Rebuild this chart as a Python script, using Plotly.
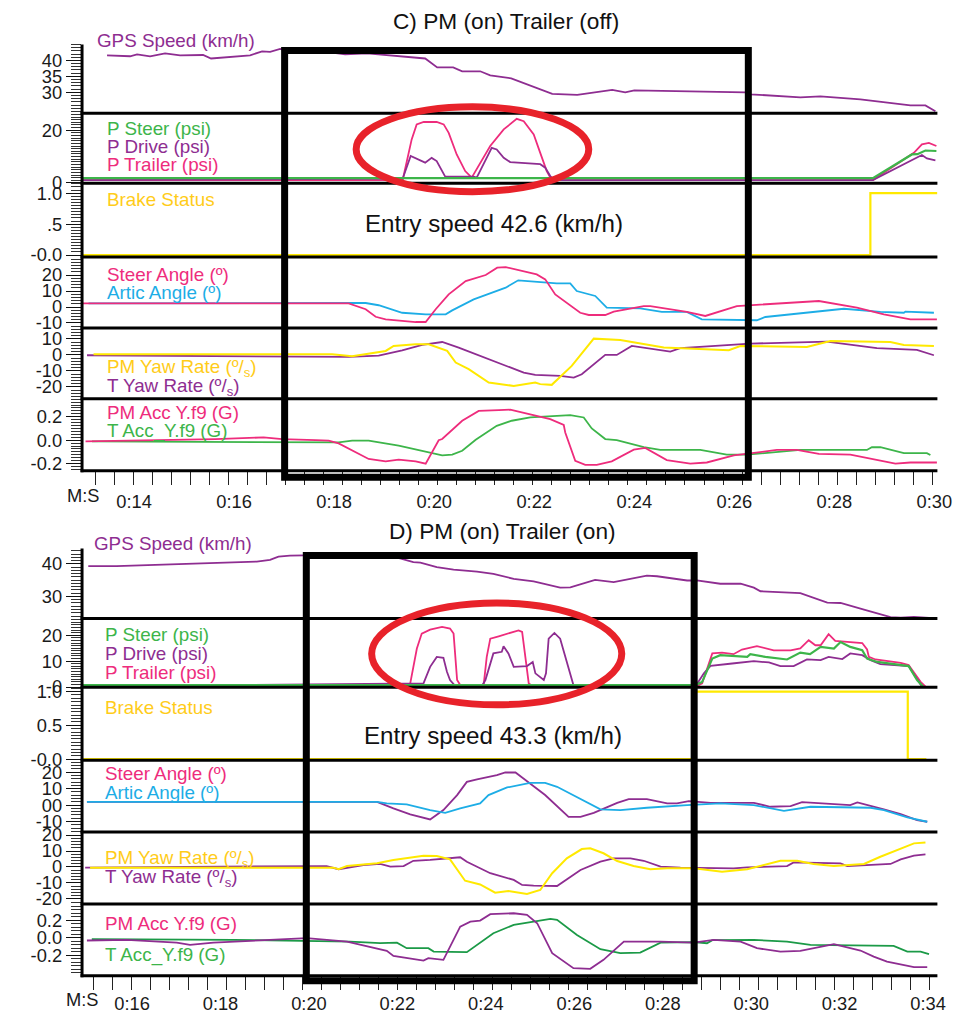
import plotly.graph_objects as go

# ======================= DATA =======================
# ---- Panel C : PM (on) Trailer (off) ----
c_xtick_vals = [14, 16, 18, 20, 22, 24, 26, 28, 30]
c_xtick_text = ["0:14", "0:16", "0:18", "0:20", "0:22", "0:24", "0:26", "0:28", "0:30"]

c_gps_t = [13.46, 13.92, 14.06, 14.32, 14.62, 14.92, 15.38, 15.54, 16.32, 16.56, 16.72, 16.92, 17.16, 17.92,
           18.22, 18.66, 19.82, 20.06, 20.38, 20.56, 20.92, 21.12, 21.54, 22.22, 22.36, 22.86, 23.56, 23.82,
           24.0, 26.22, 26.32, 27.32, 27.72, 28.52, 29.52, 29.82, 30.02]
c_gps = [41.6, 41.3, 41.9, 41.25, 42.2, 41.6, 41.7, 40.6, 41.6, 42.8, 42.7, 43.6, 42.5, 42.5,
         41.9, 42.2, 40.6, 37.8, 37.8, 36.6, 36.6, 35.3, 34.4, 30.3, 29.5, 29.2, 30.8, 30.0,
         30.6, 30.0, 29.4, 28.4, 28.75, 27.8, 25.9, 25.9, 24.1]

c_pstr_t = [12.97, 28.77, 29.55, 29.66, 29.82, 30.04]
c_pstr = [1.8, 1.8, 10.8, 10.9, 12.3, 12.1]
c_pdrv_t = [12.97, 19.37, 19.53, 19.65, 19.82, 19.95, 20.05, 20.22, 20.79, 20.85, 21.15, 21.25, 21.39, 21.52,
            22.12, 22.22, 22.32, 22.4, 28.77, 29.75, 29.85, 30.02]
c_pdrv = [1.1, 1.6, 10.2, 9.2, 7.7, 9.5, 8.3, 2.4, 2.4, 2.0, 13.3, 12.7, 9.5, 7.9,
          7.1, 5.8, 2.6, 1.1, 1.1, 10.6, 9.3, 8.6]
c_ptrl_t = [12.97, 19.37, 19.55, 19.65, 19.79, 20.05, 20.19, 20.29, 20.45, 20.62, 20.75, 20.92, 21.12, 21.39,
            21.65, 21.79, 21.99, 22.12, 22.25, 22.35, 28.77, 29.59, 29.75, 29.89, 30.04]
c_ptrl = [1.1, 1.1, 16.5, 22.2, 23.1, 23.1, 22.2, 19.0, 10.8, 4.5, 2.0, 7.7, 14.0, 20.3,
          24.3, 23.4, 18.4, 11.4, 4.5, 1.1, 1.1, 11.4, 14.6, 15.2, 14.0]

c_brake_t = [12.97, 28.72, 30.06]
c_brake = [0, 1, 1]

c_steer_t = [12.97, 18.29, 18.63, 18.83, 19.03, 19.63, 19.83, 20.03, 20.29, 20.63, 21.03, 21.26, 21.43, 22.05,
             22.22, 22.42, 22.92, 23.09, 23.42, 23.59, 24.19, 24.32, 25.05, 25.42, 26.05, 27.69, 28.45, 28.99,
             29.52, 30.05]
c_steer = [2.3, 2.3, -1.4, -6.1, -7.7, -9.4, -9.4, -1.4, 7.9, 16.25, 20.0, 24.6, 25.0, 20.4,
           17.3, 7.9, -3.6, -5.0, -5.0, -2.9, 0.6, 0.6, -3.1, -5.6, 0.6, 3.75, -0.4, -4.6,
           -7.7, -7.7]
c_artic_t = [13.09, 18.63, 18.89, 19.36, 19.83, 20.23, 20.36, 20.79, 21.43, 21.68, 22.45, 22.72, 22.85, 23.22,
             23.45, 24.12, 24.55, 25.05, 25.35, 26.45, 26.62, 28.19, 28.92, 29.39, 29.42, 29.99]
c_artic = [2.3, 2.5, 1.1, -3.6, -4.6, -4.6, -2.1, 4.8, 12.1, 16.7, 14.8, 14.8, 10.0, 6.9,
           -0.4, -0.8, -3.1, -3.1, -7.7, -8.3, -6.25, -1.1, -3.1, -3.6, -2.9, -3.6]

c_pmyaw_t = [13.19, 17.96, 18.36, 19.03, 19.19, 19.63, 19.89, 20.26, 20.43, 20.69, 21.09, 21.59, 22.02, 22.12,
             22.35, 22.75, 23.19, 23.72, 24.59, 25.89, 26.12, 27.45, 27.92, 29.12, 29.39, 29.99]
c_pmyaw = [0.4, 0.4, -0.8, 2.5, 5.6, 6.7, 6.7, 2.5, -4.8, -8.9, -17.3, -19.4, -17.3, -18.3,
           -18.75, -6.9, 10.2, 9.4, 4.6, 2.9, 5.6, 5.0, 8.75, 8.1, 6.25, 5.6]
c_tyaw_t = [13.06, 18.29, 18.89, 19.36, 19.76, 20.16, 20.49, 20.92, 21.79, 22.02, 22.52, 22.79, 22.95, 23.42,
            23.65, 23.95, 24.72, 24.92, 26.05, 26.32, 27.85, 28.85, 29.65, 29.99]
c_tyaw = [-0.2, -1.25, -0.4, 2.9, 6.25, 8.1, 4.6, -0.6, -11.1, -12.5, -13.1, -14.2, -12.1, 0.0,
          0.0, 5.6, 2.1, 4.2, 6.7, 7.1, 8.3, 4.2, 3.1, -0.2]

c_pmacc_t = [13.03, 15.63, 16.59, 16.96, 17.63, 17.89, 18.09, 18.69, 19.03, 19.29, 19.63, 19.83, 20.09, 20.16,
             20.56, 20.89, 21.29, 21.52, 22.32, 22.59, 22.62, 22.72, 22.82, 23.02, 23.25, 23.55, 23.99, 24.22,
             24.65, 25.12, 25.45, 25.99, 26.85, 27.25, 27.69, 28.32, 28.72, 29.22, 29.52, 30.05]
c_pmacc = [-0.01, 0.01, 0.024, 0.01, 0.0, -0.004, -0.027, -0.16, -0.18, -0.166, -0.18, -0.2, 0.0, 0.01,
           0.166, 0.25, 0.257, 0.26, 0.18, 0.13, 0.066, -0.06, -0.175, -0.21, -0.21, -0.18, -0.08, -0.066,
           -0.17, -0.2, -0.19, -0.13, -0.083, -0.083, -0.117, -0.123, -0.16, -0.2, -0.19, -0.19]
c_tacc_t = [13.16, 18.09, 18.36, 18.69, 19.29, 20.16, 20.36, 20.56, 20.83, 21.25, 21.55, 21.92, 22.72, 22.99,
            23.15, 23.42, 23.65, 24.19, 24.52, 25.32, 25.85, 26.25, 27.32, 28.65, 28.75, 28.92, 29.39, 29.85,
            29.92]
c_tacc = [-0.01, -0.019, -0.004, -0.004, -0.047, -0.13, -0.123, -0.09, 0.004, 0.123, 0.166, 0.194, 0.214, 0.194,
          0.1, 0.01, 0.0, -0.06, -0.083, -0.083, -0.123, -0.123, -0.083, -0.083, -0.06, -0.06, -0.11, -0.11,
          -0.126]

# ---- Panel D : PM (on) Trailer (on) ----
d_xtick_vals = [16, 18, 20, 22, 24, 26, 28, 30, 32, 34]
d_xtick_text = ["0:16", "0:18", "0:20", "0:22", "0:24", "0:26", "0:28", "0:30", "0:32", "0:34"]

d_gps_t = [15.01, 15.65, 18.82, 19.12, 19.31, 19.57, 20.55, 21.76, 22.06, 22.36, 22.52, 22.89, 23.27, 23.8,
           24.17, 24.63, 25.08, 25.68, 25.91, 26.47, 26.89, 27.64, 27.87, 28.55, 28.77, 29.3, 29.76, 30.06,
           30.21, 31.11, 31.72, 32.02, 32.55, 33.15, 33.38, 33.68, 34.02]
d_gps = [39.27, 39.27, 40.7, 41.2, 42.2, 42.5, 42.75, 42.75, 41.7, 40.5, 40.4, 39.0, 38.2, 37.6,
         36.9, 35.4, 34.6, 32.7, 32.8, 35.1, 34.4, 36.4, 36.2, 34.9, 34.9, 33.9, 33.9, 32.7,
         31.6, 31.0, 28.1, 28.0, 26.0, 23.7, 23.5, 23.7, 23.4]

d_pstr_t = [14.87, 28.74, 28.89, 29.12, 29.3, 29.91, 29.98, 30.32, 30.81, 31.11, 31.33, 31.57, 31.87, 32.02,
            32.24, 32.51, 32.62, 32.85, 33.56, 33.75, 33.9]
d_pstr = [0.77, 0.77, 2.0, 11.0, 12.3, 11.65, 12.7, 11.65, 10.65, 13.3, 12.7, 15.5, 14.9, 17.4,
          15.5, 14.2, 11.0, 9.7, 8.1, 2.7, -0.1]
d_pdrv_t = [14.87, 22.59, 22.74, 22.89, 23.04, 23.12, 23.19, 23.31, 23.91, 23.99, 24.17, 24.36, 24.4, 24.51,
            24.63, 24.93, 25.06, 25.12, 25.31, 25.36, 25.42, 25.55, 25.68, 25.8, 25.98, 26.05, 28.74, 28.93,
            29.08, 29.57, 30.06, 30.4, 30.66, 30.96, 31.26, 31.57, 31.75, 32.06, 32.24, 32.51, 32.7, 32.92,
            33.56, 33.87]
d_pdrv = [0.3, 1.4, 7.8, 11.65, 11.3, 5.9, 2.7, 0.4, 0.4, 2.7, 13.0, 13.6, 15.8, 13.0,
          7.8, 8.1, 9.7, 5.3, 2.7, 5.3, 18.7, 20.9, 18.7, 11.65, 0.77, 0.3, 0.3, 5.3,
          8.2, 9.1, 10.0, 9.5, 8.1, 8.1, 10.65, 10.4, 11.65, 10.8, 13.0, 12.3, 10.4, 8.85,
          8.1, -0.1]
d_ptrl_t = [14.87, 22.25, 22.29, 22.34, 22.44, 22.55, 22.74, 23.01, 23.19, 23.27, 23.31, 23.35, 23.42, 23.95,
            24.02, 24.1, 24.29, 24.51, 24.74, 24.82, 24.89, 24.97, 25.08, 28.74, 28.89, 29.12, 29.34, 29.6,
            29.79, 30.13, 30.51, 30.89, 31.11, 31.3, 31.45, 31.57, 31.75, 31.9, 32.51, 32.62, 32.66, 32.81,
            33.38, 33.56, 33.83, 33.96]
d_ptrl = [0.3, 0.3, 1.4, 5.9, 14.9, 20.65, 22.2, 23.2, 22.6, 20.65, 11.65, 2.7, 0.77, 0.77,
          11.65, 18.7, 19.6, 20.65, 21.9, 21.3, 11.65, 1.4, 0.1, 0.1, 1.4, 13.0, 13.3, 12.7,
          14.5, 15.8, 14.2, 14.2, 14.9, 18.1, 16.15, 16.15, 20.4, 17.8, 17.0, 14.5, 11.65, 10.65,
          9.3, 8.5, 2.0, -0.1]

d_brake_t = [14.87, 28.7, 33.54, 33.96]
d_brake = [0, 1, 0, 0]

d_steer_t = [14.98, 21.54, 21.91, 22.29, 22.74, 23.04, 23.35, 23.57, 23.8, 24.25, 24.44, 24.67, 24.85, 25.34,
             25.87, 26.14, 26.44, 26.97, 27.23, 27.64, 28.1, 28.32, 28.59, 29.08, 30.06, 30.43, 30.89, 31.15,
             32.24, 32.4, 33.0, 33.38, 33.75, 33.98]
d_steer = [2.0, 2.0, -2.0, -5.6, -8.7, -3.0, 6.1, 14.1, 15.6, 18.2, 19.8, 19.8, 16.2, 6.1,
           -7.1, -7.1, -4.7, 1.4, 3.6, 3.6, 1.0, 1.0, 2.4, 1.4, 1.4, -1.0, -0.6, 1.8,
           0.0, 1.6, -2.6, -5.5, -9.1, -10.1]
d_artic_t = [14.98, 21.54, 21.76, 22.21, 22.74, 23.08, 23.42, 23.72, 23.87, 24.06, 24.48, 25.0, 25.34, 25.61,
             26.14, 26.59, 27.04, 27.64, 28.55, 29.3, 30.06, 30.74, 31.34, 32.7, 33.0, 33.53, 33.98]
d_artic = [2.0, 2.0, 1.0, 0.4, -3.0, -4.7, -2.0, 0.0, 1.0, 6.1, 10.7, 13.5, 13.5, 11.1,
           3.5, -2.6, -3.0, -1.6, 0.0, 1.0, 0.0, -3.5, -1.0, -1.6, -3.0, -7.5, -10.1]

d_pmyaw_t = [15.05, 20.55, 20.67, 20.86, 21.54, 21.91, 22.59, 22.89, 23.19, 23.53, 23.87, 24.21, 24.51, 24.93,
             25.23, 25.5, 25.83, 26.17, 26.36, 26.66, 26.97, 27.34, 27.72, 28.1, 28.7, 29.34, 29.91, 30.66,
             31.04, 31.41, 31.87, 32.17, 32.55, 32.92, 33.3, 33.68, 33.94]
d_pmyaw = [-0.4, -0.4, -1.4, 0.6, 2.3, 4.4, 7.1, 6.9, 4.8, -8.6, -10.9, -16.1, -15.0, -16.9,
           -14.4, -3.9, 5.4, 11.25, 11.7, 8.6, 3.75, 0.6, -1.4, -0.8, -0.8, -2.9, -1.4, 3.9,
           3.9, 1.9, 0.6, 1.25, 1.9, 6.4, 10.6, 14.8, 15.4]
d_tyaw_t = [14.94, 20.18, 20.4, 20.67, 21.23, 21.61, 21.84, 22.14, 22.36, 22.74, 23.12, 23.42, 23.57, 23.87,
            24.1, 24.63, 24.82, 25.08, 25.61, 26.14, 26.59, 26.89, 27.27, 27.57, 27.95, 28.4, 29.6, 29.91,
            30.81, 30.96, 32.02, 32.17, 33.15, 33.38, 33.68, 33.94]
d_tyaw = [-0.4, 0.2, 0.6, -1.4, 1.25, 1.9, 0.2, 0.6, 3.9, 4.4, 5.4, 6.1, 3.3, -0.8,
          -3.9, -8.1, -11.25, -11.7, -11.9, -1.9, 3.3, 5.4, 5.4, 3.9, 0.2, -0.4, -0.8, -0.2,
          0.6, 2.9, 2.3, 0.6, 1.9, 4.8, 7.1, 7.9]

d_pmacc_t = [14.98, 15.88, 17.01, 17.31, 17.84, 19.05, 19.95, 20.86, 21.76, 21.91, 22.59, 22.7, 23.04, 23.42,
             23.65, 23.87, 24.1, 24.63, 24.93, 25.16, 25.5, 25.98, 26.36, 26.66, 27.12, 27.95, 28.7, 29.15,
             29.76, 30.13, 30.66, 31.11, 31.87, 32.47, 32.77, 33.07, 33.68, 33.98]
d_pmacc = [-0.03, -0.023, -0.054, -0.08, -0.054, -0.023, -0.003, -0.042, -0.149, -0.206, -0.26, -0.232, -0.251, 0.129,
           0.186, 0.198, 0.271, 0.282, 0.263, 0.168, -0.175, -0.346, -0.354, -0.251, -0.042, -0.042, -0.054, -0.023,
           -0.042, -0.118, -0.157, -0.149, -0.072, -0.145, -0.214, -0.271, -0.335, -0.335]
d_tacc_t = [15.09, 18.29, 20.93, 21.61, 21.99, 22.21, 22.7, 22.82, 23.57, 23.87, 24.17, 24.63, 25.46, 25.61,
            26.06, 26.59, 27.04, 27.49, 27.95, 28.7, 29.0, 29.12, 30.06, 30.81, 31.34, 33.22, 33.53, 33.83,
            34.02]
d_tacc = [-0.015, -0.023, -0.042, -0.061, -0.054, -0.118, -0.118, -0.157, -0.163, -0.054, 0.054, 0.149, 0.217, 0.206,
          0.034, -0.129, -0.175, -0.168, -0.054, -0.049, -0.061, -0.026, -0.023, -0.042, -0.08, -0.091, -0.157, -0.157,
          -0.186]

# highlighted time windows (black boxes)
c_window = [17.01, 26.28]
d_window = [19.94, 28.71]

# ======================= STYLE / LAYOUT =======================
# Layout positions below are written in reference-image pixels (rx, ry) and
# converted to the figure's paper fractions; S/OY calibrate the photo step.
W, H = 963, 1016
S, OX, OY = 0.984, 0.0, 6.5
FONT = "Liberation Sans, Arial, Helvetica, sans-serif"
PURPLE = "#8E2D91"
PINK = "#EE2C7C"
GREEN = "#3DB54A"
DGREEN = "#1B9A47"
BLUE = "#1DADE6"
YELLOW = "#FFE900"
YTEXT = "#FFCC19"
RED = "#E8222A"


def fx(rx):
    return ((rx - OX) / S) / W


def fy(ry):
    return 1 - ((ry - OY) / S) / H


def sz(v):
    return v / S


fig = go.Figure()


def add(x, y, color, xa, ya, shape="linear", width=1.8):
    fig.add_trace(go.Scatter(x=x, y=y, mode="lines",
                             line=dict(color=color, width=width, shape=shape),
                             xaxis=xa, yaxis=ya, showlegend=False, hoverinfo="skip"))


# panel C traces
add(c_gps_t, c_gps, PURPLE, "x", "y")
add(c_ptrl_t, c_ptrl, PINK, "x", "y2")
add(c_pdrv_t, c_pdrv, PURPLE, "x", "y2")
add(c_pstr_t, c_pstr, GREEN, "x", "y2", width=2.2)
add(c_brake_t, c_brake, YELLOW, "x", "y3", shape="hv", width=2.2)
add(c_artic_t, c_artic, BLUE, "x", "y4")
add(c_steer_t, c_steer, PINK, "x", "y4")
add(c_tyaw_t, c_tyaw, PURPLE, "x", "y5")
add(c_pmyaw_t, c_pmyaw, YELLOW, "x", "y5", width=2.0)
add(c_tacc_t, c_tacc, GREEN, "x", "y6")
add(c_pmacc_t, c_pmacc, PINK, "x", "y6")

# panel D traces
add(d_gps_t, d_gps, PURPLE, "x2", "y7")
add(d_ptrl_t, d_ptrl, PINK, "x2", "y8")
add(d_pdrv_t, d_pdrv, PURPLE, "x2", "y8")
add(d_pstr_t, d_pstr, GREEN, "x2", "y8", width=2.2)
add(d_brake_t, d_brake, YELLOW, "x2", "y9", shape="hv", width=2.2)
add(d_steer_t, d_steer, PURPLE, "x2", "y10")
add(d_artic_t, d_artic, BLUE, "x2", "y10")
add(d_tyaw_t, d_tyaw, PURPLE, "x2", "y11")
add(d_pmyaw_t, d_pmyaw, YELLOW, "x2", "y11", width=2.0)
add(d_tacc_t, d_tacc, DGREEN, "x2", "y12")
add(d_pmacc_t, d_pmacc, PURPLE, "x2", "y12")

rows_c = [(43, 112), (112, 182), (182, 256), (256, 327), (327, 398), (398, 470)]
rows_d = [(548, 618), (618, 687), (687, 760), (760, 832), (832, 904), (904, 976)]

ranges_c = [[23.44, 45.0], [-0.1, 26.4], [-0.032, 1.161], [-13.1, 31.25], [-27.5, 16.9], [-0.26, 0.353]]
ranges_d = [[23.27, 44.68], [-0.1, 26.5], [-0.015, 1.063], [-16.36, 27.27], [-23.125, 21.875], [-0.434, 0.3886]]

ticks_c = [([30, 35, 40], ["30", "35", "40"], 1),
           ([0, 20], ["0", "20"], 1),
           ([0, 0.5, 1], ["-0.0", ".5", "1.0"], 0.05),
           ([-10, 0, 10, 20], ["-10", "0", "10", "20"], 2),
           ([-20, -10, 0, 10], ["-20", "-10", "0", "10"], 2),
           ([-0.2, 0, 0.2], ["-0.2", "0.0", "0.2"], 0.025)]
ticks_d = [([30, 40], ["30", "40"], 1),
           ([0, 10, 20], ["-0", "10", "20"], 1),
           ([0, 0.5, 1], ["-0.0", "0.5", "1.0"], 0.05),
           ([-10, 0, 10, 20], ["-10", "00", "10", "20"], 2),
           ([-20, -10, 0, 10, 20], ["-20", "-10", "0", "10", "20"], 2),
           ([-0.2, 0, 0.2], ["-0.2", "0.0", "0.2"], 0.04)]


def yax(top, bot, rng, tv, tt, mdt, xa):
    return dict(domain=[fy(bot), fy(top)], range=rng, anchor=xa,
                tickmode="array", tickvals=tv, ticktext=tt,
                ticks="outside", ticklen=sz(15), tickwidth=1, tickcolor="#111",
                showgrid=False, zeroline=False, showline=False,
                tickfont=dict(size=sz(18), color="#1a1a1a", family=FONT),
                minor=dict(ticks="outside", ticklen=sz(10), tickwidth=1, tickcolor="#333",
                           tickmode="linear", tick0=0, dtick=mdt, showgrid=False),
                fixedrange=True)


layout_axes = {}
for i in range(6):
    (top, bot), rng, (tv, tt, mdt) = rows_c[i], ranges_c[i], ticks_c[i]
    layout_axes["yaxis" if i == 0 else f"yaxis{i + 1}"] = yax(top, bot, rng, tv, tt, mdt, "x")
for i in range(6):
    (top, bot), rng, (tv, tt, mdt) = rows_d[i], ranges_d[i], ticks_d[i]
    layout_axes[f"yaxis{i + 7}"] = yax(top, bot, rng, tv, tt, mdt, "x2")


def xax(rng, tv, tt, anchor, t0, dt, tlen):
    return dict(domain=[fx(82), fx(937)], range=rng, anchor=anchor,
                tickmode="array", tickvals=tv, ticktext=tt,
                ticks="outside", ticklen=tlen, tickcolor="rgba(0,0,0,0)",
                showgrid=False, zeroline=False, showline=False,
                tickfont=dict(size=sz(18), color="#1a1a1a", family=FONT),
                minor=dict(ticks="outside", ticklen=sz(13), tickwidth=1, tickcolor="#222",
                           tickmode="linear", tick0=t0, dtick=dt, showgrid=False),
                fixedrange=True)


layout_axes["xaxis"] = xax([12.96, 30.06], c_xtick_vals, c_xtick_text, "y6", 13.234, 0.38, sz(14))
layout_axes["xaxis2"] = xax([14.869, 34.21], d_xtick_vals, d_xtick_text, "y12", 15.118, 0.43, 11)

shapes = []
# frame / separator lines
for ry in [112, 182, 256, 327, 398, 470, 618, 687, 760, 832, 904, 976]:
    shapes.append(dict(type="line", xref="paper", yref="paper", x0=fx(80.5), x1=fx(937),
                       y0=fy(ry), y1=fy(ry), line=dict(color="black", width=3)))
for top, bot in [(43, 471.5), (548, 977.5)]:
    shapes.append(dict(type="line", xref="paper", yref="paper", x0=fx(82), x1=fx(82),
                       y0=fy(bot), y1=fy(top), line=dict(color="black", width=3)))
# highlighted windows
shapes.append(dict(type="rect", xref="x", yref="paper", x0=c_window[0], x1=c_window[1],
                   y0=fy(476.5), y1=fy(49), line=dict(color="black", width=7)))
shapes.append(dict(type="rect", xref="x2", yref="paper", x0=d_window[0], x1=d_window[1],
                   y0=fy(981), y1=fy(555), line=dict(color="black", width=7)))
# red ellipses
shapes.append(dict(type="circle", xref="paper", yref="paper", x0=fx(356), x1=fx(588.5),
                   y0=fy(190.5), y1=fy(105.5), line=dict(color=RED, width=7)))
shapes.append(dict(type="circle", xref="paper", yref="paper", x0=fx(371.5), x1=fx(621.5),
                   y0=fy(704.5), y1=fy(602.5), line=dict(color=RED, width=7)))

annotations = []


def label(text, rx, ry, color, size=18.5, anchor="left"):
    annotations.append(dict(text=text, x=fx(rx), y=fy(ry), xref="paper", yref="paper",
                            xanchor=anchor, yanchor="middle", showarrow=False,
                            font=dict(size=sz(size), color=color, family=FONT)))


SUBS = "(º/<sub>s</sub>)"
# panel C labels
label("C) PM (on) Trailer (off)", 506, 20, "#111", size=22.3, anchor="center")
label("GPS Speed (km/h)", 95, 39, PURPLE)
label("P Steer (psi)", 105, 127, GREEN)
label("P Drive (psi)", 105, 145, PURPLE)
label("P Trailer (psi)", 105, 163, PINK)
label("Brake Status", 105, 198, YTEXT)
label("Entry speed 42.6 (km/h)", 494, 222, "#111", size=23.8, anchor="center")
label("Steer Angle (º)", 105, 273, PINK)
label("Artic Angle (º)", 105, 291, BLUE)
label("PM Yaw Rate " + SUBS, 105, 367, YTEXT)
label("T Yaw Rate " + SUBS, 105, 386, PURPLE)
label("PM Acc Y.f9 (G)", 105, 412, PINK)
label("T Acc_Y.f9 (G)", 105, 430, GREEN)
label("M:S", 83, 495, "#1a1a1a", size=18, anchor="center")

# panel D labels
label("D) PM (on) Trailer (on)", 502, 530, "#111", size=22.3, anchor="center")
label("GPS Speed (km/h)", 92, 543, PURPLE)
label("P Steer (psi)", 103, 634, GREEN)
label("P Drive (psi)", 103, 653, PURPLE)
label("P Trailer (psi)", 103, 672, PINK)
label("Brake Status", 103, 707, YTEXT)
label("Entry speed 43.3 (km/h)", 493, 735, "#111", size=23.8, anchor="center")
label("Steer Angle (º)", 103, 773, PINK)
label("Artic Angle (º)", 103, 792, BLUE)
label("PM Yaw Rate " + SUBS, 103, 859, YTEXT)
label("T Yaw Rate " + SUBS, 103, 878, PURPLE)
label("PM Acc Y.f9 (G)", 103, 924, PINK)
label("T Acc_Y.f9 (G)", 103, 955, GREEN)
label("M:S", 82, 1000, "#1a1a1a", size=18, anchor="center")

fig.update_layout(
    width=W, height=H, autosize=False,
    margin=dict(l=0, r=0, t=0, b=0),
    paper_bgcolor="white", plot_bgcolor="white",
    font=dict(family=FONT, color="#1a1a1a"),
    showlegend=False,
    shapes=shapes, annotations=annotations,
    **layout_axes,
)

# pin the fixed-size figure to the top-left corner of the window
PAGE_JS = (
    "var s=document.documentElement.style;s.margin='0';s.padding='0';s.overflow='hidden';"
    "var b=document.body.style;b.margin='0';b.padding='0';b.overflow='hidden';"
    "var g=document.getElementsByClassName('plotly-graph-div')[0];"
    "if(g){g.style.position='fixed';g.style.left='0px';g.style.top='0px';}"
)

fig.write_html("out.html", post_script=PAGE_JS, config={"displayModeBar": False})
